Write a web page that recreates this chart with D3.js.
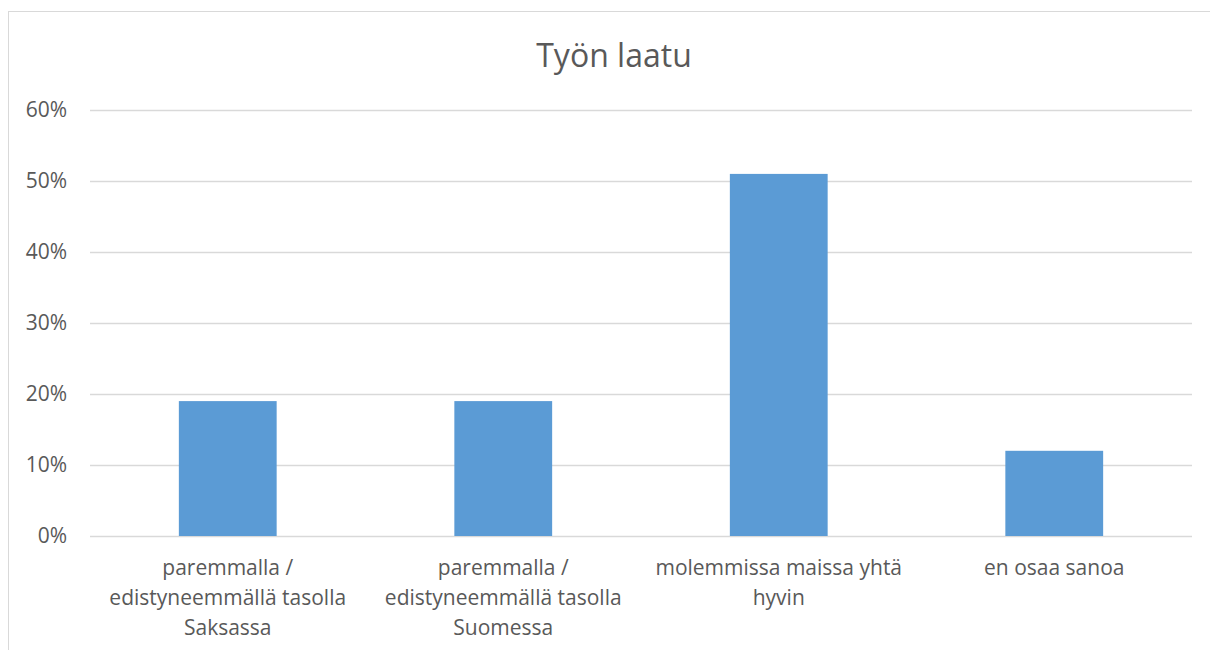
<!DOCTYPE html>
<html>
<head>
<meta charset="utf-8">
<script src="https://cdn.jsdelivr.net/npm/d3@7"></script>
<style>
  body { margin: 0; background: #fff; }
  svg text { font-family: "Open Sans", "Noto Sans", sans-serif; fill: #595959; }
</style>
</head>
<body>
<div id="chart"></div>
<script>
var title = 'Työn laatu';
var categories = [
  ['paremmalla /', 'edistyneemmällä tasolla', 'Saksassa'],
  ['paremmalla /', 'edistyneemmällä tasolla', 'Suomessa'],
  ['molemmissa maissa yhtä', 'hyvin'],
  ['en osaa sanoa']
];
var values = [0.19, 0.19, 0.51, 0.12];
var yTicks = [0, 0.1, 0.2, 0.3, 0.4, 0.5, 0.6];

var width = 1210, height = 650;
var margin = {left: 90, right: 18, top: 110, bottom: 114};

var svg = d3.select('#chart').append('svg')
  .attr('width', width).attr('height', height);

// chart frame
svg.append('rect')
  .attr('x', 8.5).attr('y', 11.5)
  .attr('width', 1220).attr('height', 660)
  .attr('fill', 'none').attr('stroke', '#d9d9d9').attr('stroke-width', 1);

var x = d3.scaleBand()
  .domain(d3.range(categories.length))
  .range([margin.left, width - margin.right])
  .paddingInner(0.645).paddingOuter(0.3225);

var y = d3.scaleLinear().domain([0, 0.6]).range([height - margin.bottom, margin.top]);

// gridlines
svg.append('g').selectAll('line').data(yTicks).join('line')
  .attr('x1', margin.left).attr('x2', width - margin.right)
  .attr('y1', function(d){ return Math.round(y(d)) + 0.5; })
  .attr('y2', function(d){ return Math.round(y(d)) + 0.5; })
  .attr('stroke', '#d9d9d9').attr('stroke-width', 1.5);

// y labels
svg.append('g').selectAll('text').data(yTicks).join('text')
  .attr('x', 67).attr('y', function(d){ return y(d); })
  .attr('dy', '0.35em')
  .attr('text-anchor', 'end')
  .style('font-size', '21px')
  .text(d3.format('.0%'));

// bars
svg.append('g').selectAll('rect').data(values).join('rect')
  .attr('x', function(d, i){ return x(i); })
  .attr('width', x.bandwidth())
  .attr('y', function(d){ return y(d); })
  .attr('height', function(d){ return y(0) - y(d); })
  .attr('fill', '#5b9bd5');

// category labels
var cat = svg.append('g').selectAll('text').data(categories).join('text')
  .attr('text-anchor', 'middle')
  .style('font-size', '21px');
cat.each(function(lines, i){
  d3.select(this).selectAll('tspan').data(lines).join('tspan')
    .attr('x', x(i) + x.bandwidth() / 2)
    .attr('y', function(d, j){ return 575 + j * 30; })
    .text(function(d){ return d; });
});

// title
svg.append('text')
  .attr('x', 614).attr('y', 67)
  .attr('text-anchor', 'middle')
  .style('font-size', '32px')
  .text(title);
</script>
</body>
</html>
